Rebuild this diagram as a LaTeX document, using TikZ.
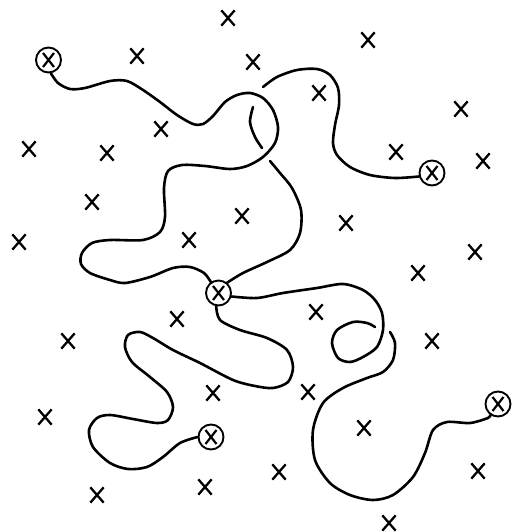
\documentclass[tikz,border=0pt]{standalone}
\usetikzlibrary{shapes.misc}
\tikzset{
  xmark/.style={cross out, draw, line width=2.3pt, minimum width=11pt, minimum height=13pt, inner sep=0pt},
  site/.style={circle, draw, fill=white, line width=1.9pt, minimum size=25pt, inner sep=0pt,
    path picture={\draw[line width=2.2pt] (path picture bounding box.center) +(-5.5pt,-7pt) -- +(5.5pt,7pt) +(-5.5pt,7pt) -- +(5.5pt,-7pt);}},
  wire/.style={line width=2.6pt, line cap=round, line join=round}
}
\begin{document}
\begin{tikzpicture}[x=1pt,y=-1pt]
\useasboundingbox (0,0) rectangle (511,532);
% circled sites
\node[site] (A) at (48.5,60) {};
\node[site] (B) at (432,173) {};
\node[site] (C) at (218.5,293) {};
\node[site] (D) at (211,437) {};
\node[site] (E) at (498,404) {};
% lone marks
\foreach \px/\py [count=\i] in {228/18, 137/56, 253/62, 368/40, 319/93, 461/109, 161/129, 29/149,
  107/153, 396/152, 483/161, 92/202, 242/216, 346/223, 19/242, 189/240, 475/252, 418/273,
  177/319, 316/312, 68/341, 432/341, 213/393, 308/392, 45/417, 364/428, 279/472, 478/471,
  205/487, 97/495, 389/523}
  \node[xmark] (x\i) at (\px,\py) {};
% curve A -> C
\draw[wire] plot[smooth] coordinates {(A.-80) (58,83) (70,89) (85,88) (110,81) (127,81) (143,90)
  (160,102) (177,115) (193,124) (203,124) (213,116) (225,102) (237,95) (250,93) (263,98)
  (273,110) (278,127) (275,143) (263,157) (247,166) (230,169) (205,166) (182,165) (168,171)
  (164,188) (165,217) (160,232) (143,240) (110,240) (92,243) (82,253) (81,264) (90,273)
  (110,280) (125,283) (150,277) (173,268) (190,267) (204,273) (C.125)};
% curve C -> B (passing under the loop twice)
\draw[wire] plot[smooth] coordinates {(C.50) (243,273) (267,262) (290,250) (300,233) (301,210)
  (292,188) (280,173) (270,161)};
\draw[wire] plot[smooth] coordinates {(262,148) (255,137) (250,122) (253,107)};
\draw[wire] plot[smooth] coordinates {(263,87) (277,77) (297,70) (317,69) (330,75) (338,88)
  (339,105) (335,125) (333,143) (337,155) (350,167) (370,175) (395,178) (B.195)};
% curve C -> D
\draw[wire] plot[smooth] coordinates {(C.-100) (220,320) (240,330) (267,338) (287,350) (293,367)
  (288,382) (273,388) (255,386) (233,380) (200,363) (173,350) (153,338) (140,332) (128,335)
  (125,347) (132,362) (150,377) (167,392) (173,407) (168,420) (157,423) (133,419) (110,415)
  (97,418) (89,430) (93,447) (110,463) (128,469) (147,467) (163,457) (180,443) (D.180)};
% curve C -> E (with a self-crossing)
\draw[wire] plot[smooth] coordinates {(C.-15) (257,298) (283,293) (317,288) (343,284) (363,290)
  (375,300) (382,313) (383,330) (377,347) (363,357) (350,362) (338,358) (332,343) (337,330)
  (353,322) (367,323) (375,327)};
\draw[wire] plot[smooth] coordinates {(390,332) (395,343) (393,360) (383,372) (367,378) (343,388)
  (323,403) (313,430) (315,460) (330,483) (350,495) (373,500) (393,495) (413,477) (425,453)
  (433,430) (447,422) (470,423) (488,418) (E.235)};
\end{tikzpicture}
\end{document}
